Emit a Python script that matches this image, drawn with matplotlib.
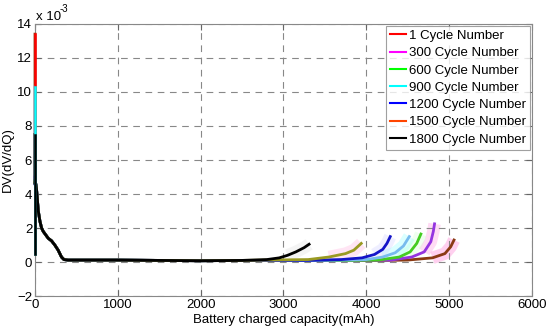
import matplotlib
matplotlib.use("Agg")
import matplotlib.pyplot as plt
from matplotlib.lines import Line2D

plt.rcParams["font.family"] = ["Liberation Sans", "DejaVu Sans"]

# DV values in units of 1e-3
cycles = ["1", "300", "600", "900", "1200", "1500", "1800"]
legend_colors = ["#ff0000", "#ff00ff", "#00ff00", "#00ffff", "#0000ff", "#ff4500", "#000000"]
line_colors = ["#8a3a14", "#9433e0", "#44cc22", "#77bbee", "#1414c8", "#9a9a22", "#000000"]
haze_colors = ["#ff66cc", "#ff88dd", "#ccffcc", "#88ffff", "#ccccff", "#ffaadd", "#dddddd"]

spike_top = [13.4, 5.0, 4.8, 10.3, 4.6, 4.7, 7.5]

head_x = [10, 20, 40, 60, 80, 100, 130, 160, 200, 240, 280, 320, 350, 400, 600, 1000, 1500, 2000, 2500]
head_y = [4.6, 4.2, 3.0, 2.4, 2.0, 1.8, 1.6, 1.4, 1.25, 1.0, 0.7, 0.3, 0.15, 0.12, 0.12, 0.12, 0.1, 0.08, 0.1]

tail_x = [
    [2800, 3300, 3800, 4200, 4500, 4800, 4950, 5020, 5060],
    [2800, 3300, 3800, 4300, 4550, 4700, 4780, 4810, 4825],
    [2800, 3300, 3800, 4150, 4400, 4530, 4610, 4660],
    [2800, 3300, 3700, 4000, 4200, 4350, 4450, 4520],
    [2800, 3300, 3700, 3950, 4100, 4200, 4250, 4290],
    [2800, 3300, 3550, 3750, 3850, 3940],
    [2800, 2950, 3050, 3150, 3250, 3310],
]
tail_y = [
    [0.1, 0.1, 0.1, 0.1, 0.12, 0.25, 0.5, 0.9, 1.3],
    [0.1, 0.1, 0.1, 0.12, 0.3, 0.6, 1.2, 1.8, 2.25],
    [0.1, 0.1, 0.1, 0.12, 0.3, 0.6, 1.1, 1.65],
    [0.1, 0.1, 0.12, 0.15, 0.3, 0.55, 0.95, 1.5],
    [0.1, 0.1, 0.15, 0.25, 0.45, 0.75, 1.1, 1.5],
    [0.12, 0.15, 0.3, 0.5, 0.7, 1.1],
    [0.15, 0.25, 0.4, 0.6, 0.85, 1.05],
]

fig = plt.figure(figsize=(5.5, 3.32), dpi=100)
ax = fig.add_axes([0.0636, 0.108, 0.9034, 0.82])

# pale haze around the rising tails
for i in range(len(cycles)):
    ax.plot(tail_x[i][-4:], tail_y[i][-4:], color=haze_colors[i], lw=9,
            alpha=0.3, solid_capstyle="butt", zorder=1)
for i in range(len(cycles)):
    xs = [0, 0] + head_x + tail_x[i]
    ys = [spike_top[i], head_y[0]] + head_y + tail_y[i]
    ax.plot(xs, ys, color=line_colors[i], lw=2.0, zorder=3 + i * 0.1, clip_on=False)
# colored spike segments at x = 0
for i in [0, 3, 6]:
    ax.plot([0, 0], [spike_top[i], 0.5], color=legend_colors[i], lw=1.8,
            zorder=4 + i * 0.1, clip_on=False)

ax.set_xlim(0, 6000)
ax.set_ylim(-2, 14)
ax.set_xticks(range(0, 6001, 1000))
ax.set_yticks(range(-2, 15, 2))
ax.tick_params(direction="in", top=True, right=True, labelsize=9.5, length=4,
               color="#666666", pad=2)
ax.grid(True, color="#888888", linestyle=(0, (6, 5)), lw=0.8)
for sp in ax.spines.values():
    sp.set_color("#888888")

ax.set_xlabel("Battery charged capacity(mAh)", fontsize=9.5, labelpad=2)
ax.set_ylabel("DV(dV/dQ)", fontsize=9.5, labelpad=2)
ax.text(0.003, 1.005, "x 10", transform=ax.transAxes, fontsize=9.5, va="bottom", ha="left")
ax.text(0.05, 1.035, "-3", transform=ax.transAxes, fontsize=7, va="bottom", ha="left")

handles = [Line2D([0], [0], color=c, lw=1.5) for c in legend_colors]
labels = [f"{c} Cycle Number" for c in cycles]
leg = ax.legend(handles, labels, loc="upper right", fontsize=9.5, frameon=True,
                fancybox=False, borderaxespad=0.15, handlelength=1.2,
                handletextpad=0.2, labelspacing=0.38, borderpad=0.3)
leg.get_frame().set_edgecolor("#888888")
leg.get_frame().set_linewidth(0.8)

fig.savefig("out.png", dpi=100)
